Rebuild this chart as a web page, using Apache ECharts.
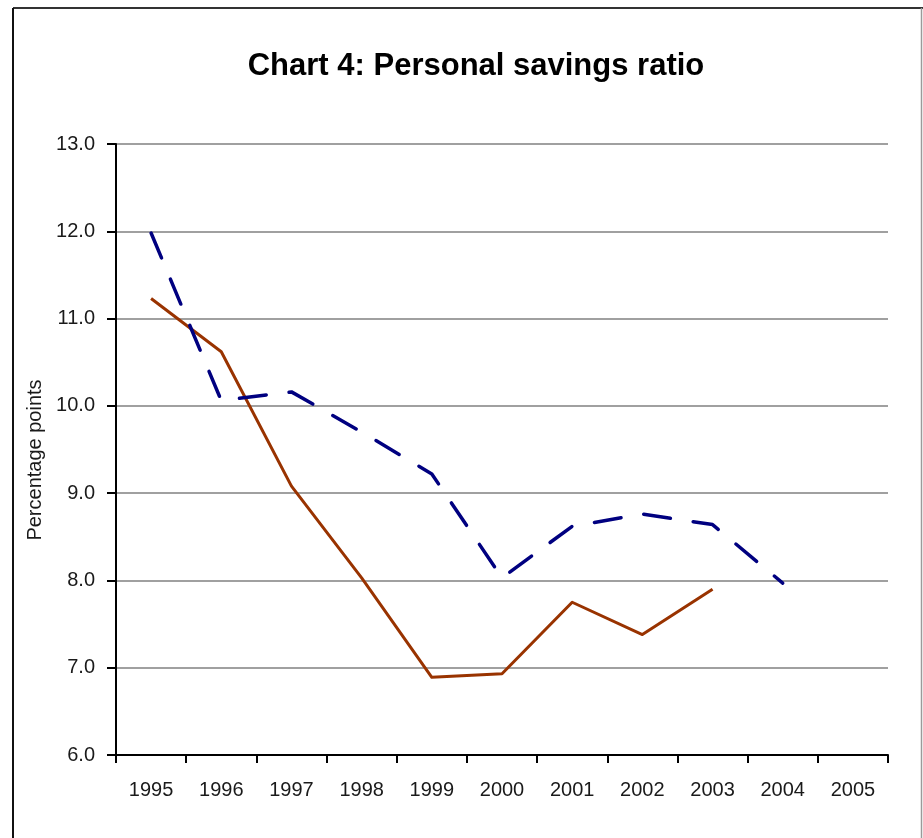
<!DOCTYPE html>
<html>
<head>
<meta charset="utf-8">
<title>Chart 4: Personal savings ratio</title>
<script src="https://cdn.jsdelivr.net/npm/echarts@6/dist/echarts.min.js"></script>
<style>
  html, body { margin: 0; padding: 0; background: #ffffff; }
  #chart { width: 923px; height: 838px; }
</style>
</head>
<body>
<div id="chart"></div>
<script>
// Years on the category axis
const years = ['1995', '1996', '1997', '1998', '1999', '2000', '2001', '2002', '2003', '2004', '2005'];

// Personal savings ratio, percentage points (solid brown line)
const savingsSolid = [11.23, 10.62, 9.08, 8.03, 6.89, 6.93, 7.75, 7.38, 7.90];

// Personal savings ratio, percentage points (dashed navy line)
const savingsDashed = [11.98, 10.06, 10.16, 9.70, 9.22, 8.03, 8.62, 8.76, 8.64, 7.97];

// Value axis range and step
const yMin = 6;
const yMax = 13;
const yStep = 1;

const FONT = "'Liberation Sans', Arial, Helvetica, sans-serif";

const chart = echarts.init(document.getElementById('chart'), null, { renderer: 'canvas' });

chart.setOption({
  backgroundColor: '#ffffff',
  animation: false,
  title: {
    text: 'Chart 4: Personal savings ratio',
    left: 471,
    textAlign: 'center',
    top: 46,
    textStyle: { fontFamily: FONT, fontSize: 31, fontWeight: 'bold', color: '#000000' }
  },
  graphic: [
    // outer frame: dark top and left edges, light right edge
    { type: 'line', shape: { x1: 13, y1: 8, x2: 923, y2: 8 }, style: { stroke: '#333333', lineWidth: 2 }, z: 10 },
    { type: 'line', shape: { x1: 13, y1: 8, x2: 13, y2: 838 }, style: { stroke: '#111111', lineWidth: 2 }, z: 10 },
    { type: 'line', shape: { x1: 921.5, y1: 8, x2: 921.5, y2: 838 }, style: { stroke: '#9a9a9a', lineWidth: 1.5 }, z: 10 },
    // value axis title, set vertically beside the tick labels
    {
      type: 'text',
      x: 35,
      y: 460,
      rotation: Math.PI / 2,
      style: {
        text: 'Percentage points',
        fontFamily: FONT,
        fontSize: 20,
        fill: '#1a1a1a',
        textAlign: 'center',
        textVerticalAlign: 'middle'
      },
      z: 10
    }
  ],
  grid: { left: 116, right: 35, top: 144, bottom: 83, containLabel: false },
  xAxis: {
    type: 'category',
    data: years,
    boundaryGap: true,
    axisLine: { show: true, lineStyle: { color: '#000000', width: 2 } },
    axisTick: { show: true, length: 8, lineStyle: { color: '#000000', width: 2 } },
    axisLabel: { fontFamily: FONT, fontSize: 20, color: '#1a1a1a', margin: 25, interval: 0 },
    splitLine: { show: false }
  },
  yAxis: {
    type: 'value',
    min: yMin,
    max: yMax,
    interval: yStep,
    axisLine: { show: true, lineStyle: { color: '#000000', width: 2 } },
    axisTick: { show: true, length: 9, lineStyle: { color: '#000000', width: 2 } },
    axisLabel: {
      fontFamily: FONT, fontSize: 20, color: '#1a1a1a', margin: 21,
      formatter: v => v.toFixed(1)
    },
    splitLine: { show: true, lineStyle: { color: '#a0a0a0', width: 2 } }
  },
  series: [
    {
      type: 'line',
      data: savingsSolid,
      symbol: 'none',
      smooth: false,
      lineStyle: { color: '#993300', width: 3, join: 'round' },
      z: 3
    },
    {
      type: 'line',
      data: savingsDashed,
      symbol: 'none',
      smooth: false,
      lineStyle: { color: '#000080', width: 3.5, type: [27, 23], cap: 'round', join: 'round' },
      z: 4
    }
  ]
});
</script>
</body>
</html>
